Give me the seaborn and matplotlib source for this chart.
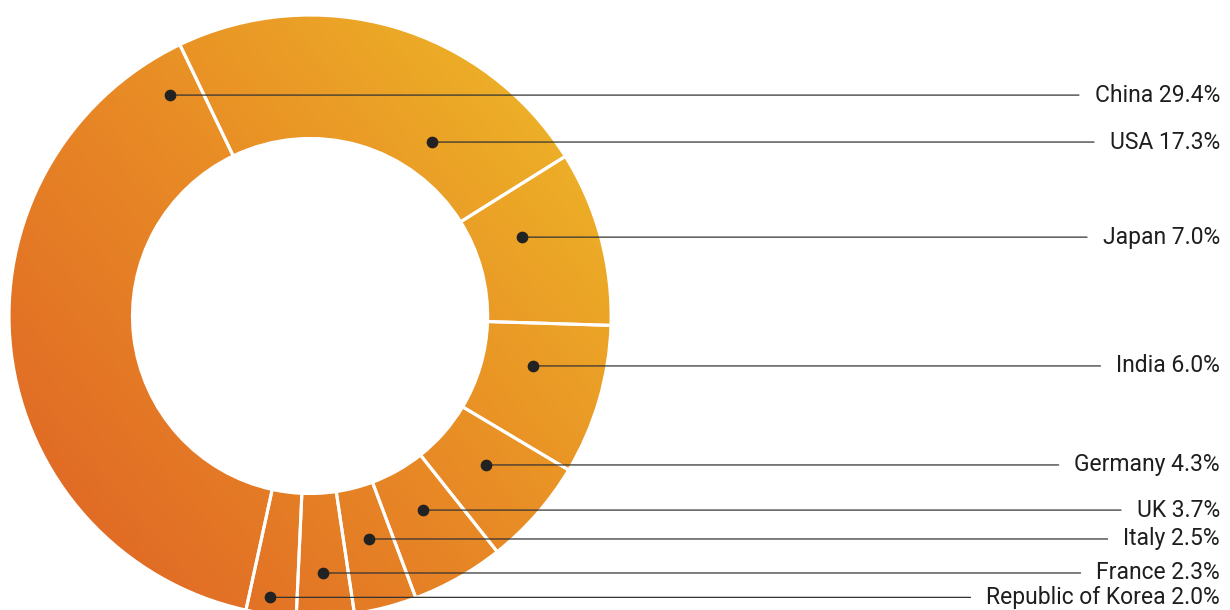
import numpy as np
import matplotlib.pyplot as plt
import seaborn as sns
from matplotlib.colors import LinearSegmentedColormap

sns.set_theme(style='white')
plt.rcParams['font.family'] = ['Roboto', 'DejaVu Sans']

countries = ['China', 'USA', 'Japan', 'India', 'Germany', 'UK', 'Italy',
             'France', 'Republic of Korea']
shares = [29.4, 17.3, 7.0, 6.0, 4.3, 3.7, 2.5, 2.3, 2.0]

# label layout (data units: ring centre at 0,0, outer radius 1)
dot_x = [-0.465, 0.405, 0.704, 0.741, 0.585, 0.375, 0.196, 0.043, -0.133]
label_y = [0.734, 0.578, 0.262, -0.166, -0.495, -0.645, -0.741, -0.854, -0.935]
label_x = 3.023

fig = plt.figure(figsize=(12.3, 6.1), dpi=100)
ax = fig.add_axes([0, 0, 1, 1])

wedges, _ = ax.pie(shares, startangle=-102.3, counterclock=False, radius=1,
                   wedgeprops=dict(width=0.41, edgecolor='white', linewidth=2.2))

# diagonal orange -> yellow gradient across the ring
cmap = LinearSegmentedColormap.from_list('ring', ['#df6326', '#e88a25', '#eeb928'])
xs = np.linspace(-1, 1, 400)
gx, gy = np.meshgrid(xs, xs)
ang = np.deg2rad(40)
grad = (gx * np.cos(ang) + gy * np.sin(ang)) / 1.3
for w in wedges:
    w.set_facecolor('none')
    w.set_zorder(2)
    im = ax.imshow(grad, extent=(-1, 1, -1, 1), origin='lower', cmap=cmap,
                   vmin=-1, vmax=1, zorder=1, interpolation='bilinear')
    im.set_clip_path(w)

ax.scatter(dot_x, label_y, s=55, color='#222222', zorder=5)
for c, v, dx, ly in zip(countries, shares, dot_x, label_y):
    ax.annotate(f'{c} {v:.1f}%', xy=(dx, ly), xytext=(label_x, ly),
                ha='right', va='center', fontsize=16.5, color='#1e1e1e',
                arrowprops=dict(arrowstyle='-', color='#333333', lw=0.9,
                                shrinkA=9, shrinkB=0), zorder=4)

ax.set_xlim(-1.030, 3.056)
ax.set_ylim(-0.977, 1.050)
ax.set_aspect('auto')
ax.axis('off')

plt.savefig('out.png', dpi=100)
